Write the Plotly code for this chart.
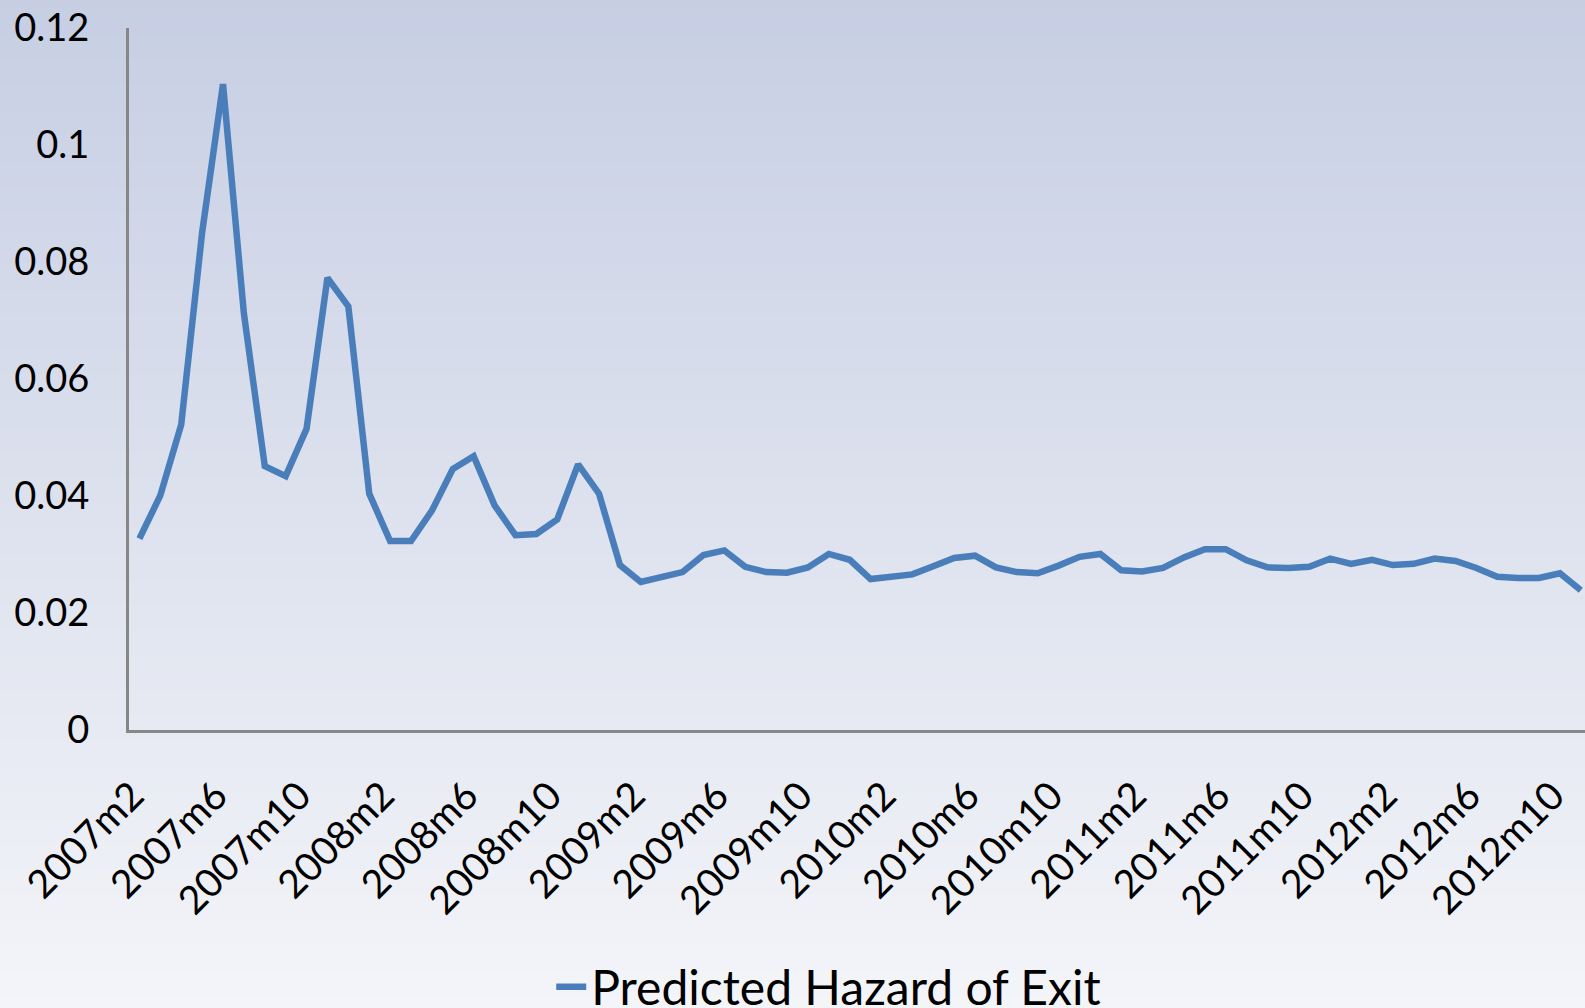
import plotly.graph_objects as go

# ---- data ----
years = [2007, 2008, 2009, 2010, 2011, 2012]
months = [f"{y}m{m}" for y in years for m in range(1, 13)]
months = months[months.index("2007m2"):months.index("2012m11") + 1]

hazard = [
    0.0327, 0.0401, 0.0522, 0.0850, 0.1104, 0.0712, 0.0451, 0.0434, 0.0515, 0.0773,
    0.0724, 0.0404, 0.0323, 0.0323, 0.0375, 0.0446, 0.0468, 0.0384, 0.0333, 0.0335,
    0.0360, 0.0454, 0.0404, 0.0282, 0.0253, 0.0262, 0.0270, 0.0299, 0.0307, 0.0279,
    0.0270, 0.0269, 0.0278, 0.0301, 0.0291, 0.0258, 0.0262, 0.0266, 0.0280, 0.0294,
    0.0298, 0.0278, 0.0270, 0.0268, 0.0281, 0.0296, 0.0301, 0.0273, 0.0271, 0.0277,
    0.0295, 0.0309, 0.0309, 0.0290, 0.0278, 0.0277, 0.0279, 0.0293, 0.0284, 0.0291,
    0.0282, 0.0284, 0.0293, 0.0289, 0.0277, 0.0262, 0.0260, 0.0260, 0.0268, 0.0239,
]

x_tick_labels = ["2007m2", "2007m6", "2007m10", "2008m2", "2008m6", "2008m10",
                 "2009m2", "2009m6", "2009m10", "2010m2", "2010m6", "2010m10",
                 "2011m2", "2011m6", "2011m10", "2012m2", "2012m6", "2012m10"]
y_tick_vals = [0, 0.02, 0.04, 0.06, 0.08, 0.10, 0.12]
y_tick_text = ["0", "0.02", "0.04", "0.06", "0.08", "0.1", "0.12"]
series_name = "Predicted Hazard of Exit"

# ---- figure ----
W, H = 1585, 1008
ML, MR, MT, MB = 129, 0, 28, 278
FONT = "Lato, 'Open Sans', sans-serif"

fig = go.Figure()
fig.add_trace(go.Scatter(
    x=months, y=hazard, mode="lines", name=series_name,
    line=dict(color="#4a7ebb", width=6.5),
))

# gradient background as thin bands (paper coords cover whole image)
top_c = (198, 206, 227)
bot_c = (244, 245, 249)
n = 120
plot_h = H - MT - MB
plot_w = W - ML - MR
y_top = (H - MB) / plot_h + 0.01   # paper y at image top
y_bot = -MB / plot_h - 0.01        # paper y at image bottom
x_left = -ML / plot_w - 0.01
x_right = 1 + MR / plot_w + 0.01
shapes = []
for i in range(n):
    t = (i + 0.5) / n
    c = tuple(round(top_c[k] + (bot_c[k] - top_c[k]) * t) for k in range(3))
    y0 = y_top - (y_top - y_bot) * i / n
    y1 = y_top - (y_top - y_bot) * (i + 1) / n
    shapes.append(dict(type="rect", xref="paper", yref="paper",
                       x0=x_left, x1=x_right, y0=y1, y1=y0 + 0.002,
                       fillcolor=f"rgb{c}", line=dict(width=0), layer="below"))

NB = "\u00a0"
fig.update_layout(
    width=W, height=H,
    margin=dict(l=ML, r=MR, t=MT, b=MB, pad=0, autoexpand=False),
    paper_bgcolor="rgb(221,225,238)",
    plot_bgcolor="rgba(0,0,0,0)",
    shapes=shapes,
    font=dict(family=FONT, color="#000000", size=38),
    showlegend=True,
    legend=dict(orientation="h", x=0.29, xanchor="left", y=-0.366, yanchor="middle",
                font=dict(family=FONT, size=48, color="#000000"),
                bgcolor="rgba(0,0,0,0)", itemwidth=30),
    xaxis=dict(
        type="category", range=[-0.5, 69.2], automargin=False,
        tickmode="array", tickvals=x_tick_labels,
        ticktext=[lbl + NB for lbl in x_tick_labels],
        tickangle=-45, showgrid=False, zeroline=False,
        showline=True, linecolor="#878787", linewidth=3,
        ticks="", ticklabelstandoff=17,
        tickfont=dict(family=FONT, size=39, color="#000000"),
    ),
    yaxis=dict(
        range=[0, 0.12], tickmode="array", tickvals=y_tick_vals, ticktext=y_tick_text,
        showgrid=False, zeroline=False, automargin=False,
        showline=True, linecolor="#878787", linewidth=3,
        ticks="", ticklabelstandoff=29,
        tickfont=dict(family=FONT, size=38, color="#000000"),
    ),
)

fig.write_html("out.html")
